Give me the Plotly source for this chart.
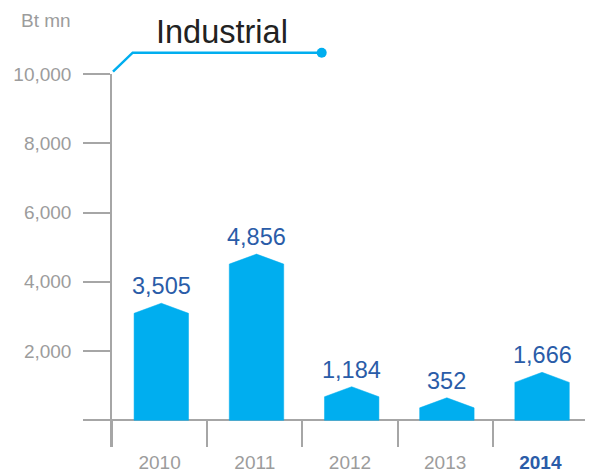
import plotly.graph_objects as go

# ---- data ----
years = ["2010", "2011", "2012", "2013", "2014"]
values = [3505, 4856, 1184, 352, 1666]          # printed labels
bar_tops = [3380, 4800, 970, 650, 1385]         # bar peak heights
y_ticks = [0, 2000, 4000, 6000, 8000, 10000]
y_tick_text = ["", "2,000", "4,000", "6,000", "8,000", "10,000"]
unit_label = "Bt mn"
title_text = "Industrial"

# ---- style ----
FONT = "Liberation Sans, Arial, Helvetica, sans-serif"
BAR = "#00aeef"
LABEL = "#2a5ca8"
GRAY = "#a6a6a6"
TXT_GRAY = "#9c9c9c"
half = 0.286      # half bar width (category units)
notch = 290       # drop from peak to shoulder (data units)
shift = 0.018     # bars sit slightly right of category centre

fig = go.Figure()
for i, top in enumerate(bar_tops):
    c = i + shift
    xs = [c - half, c - half, c, c + half, c + half, c - half]
    ys = [0, top - notch, top, top - notch, 0, 0]
    fig.add_trace(go.Scatter(
        x=xs, y=ys, mode="lines", fill="toself", fillcolor=BAR,
        line=dict(width=0.5, color=BAR), hoverinfo="skip", showlegend=False))

annotations = []
for i, (top, v) in enumerate(zip(bar_tops, values)):
    annotations.append(dict(
        x=i + shift, y=top, xref="x", yref="y", text=f"{v:,}", showarrow=False,
        xanchor="center", yanchor="bottom", yshift=2,
        font=dict(family=FONT, size=23.5, color=LABEL)))

# plot area: 481 x 373 px, its left/top edge at reference pixel 112 / 74
def px_x(p):
    return (p - 112) / 481

def px_y(p):
    return (447 - p) / 373

annotations.append(dict(
    x=px_x(154), y=px_y(32), xref="paper", yref="paper",
    text=title_text, showarrow=False, xanchor="left", yanchor="middle",
    font=dict(family=FONT, size=32.5, color="#222222")))
annotations.append(dict(
    x=px_x(19), y=px_y(21), xref="paper", yref="paper",
    text=unit_label, showarrow=False, xanchor="left", yanchor="middle",
    font=dict(family=FONT, size=19, color=TXT_GRAY)))

tick_text = [y if y != "2014" else f"<b><span style='color:{LABEL}'>{y}</span></b>" for y in years]

shapes = [
    dict(type="path", xref="paper", yref="paper",
         path=f"M {px_x(113)},{px_y(71.7)} L {px_x(132.7)},{px_y(52.7)} L {px_x(321.7)},{px_y(52.7)}",
         line=dict(color=BAR, width=2.5)),
    dict(type="circle", xref="paper", yref="paper",
         x0=px_x(316.7), x1=px_x(326.7), y0=px_y(57.7), y1=px_y(47.7),
         fillcolor=BAR, line=dict(color=BAR, width=0)),
]

# page body has an 8px margin, so the figure is 8px smaller than the window
fig.update_layout(
    width=585, height=465,
    margin=dict(l=104, r=0, t=66, b=26),
    paper_bgcolor="white", plot_bgcolor="white",
    font=dict(family=FONT),
    annotations=annotations, shapes=shapes,
    xaxis=dict(
        range=[-0.5, 4.553], tickmode="array", tickvals=list(range(len(years))),
        ticktext=tick_text, ticks="", showgrid=False, zeroline=False, showline=False,
        tickfont=dict(family=FONT, size=19, color=TXT_GRAY),
        ticklabelstandoff=2,
        minor=dict(tickmode="array", tickvals=[k - 0.5 for k in range(len(years) + 1)],
                   ticks="inside", ticklen=27, tickcolor=GRAY, tickwidth=1.5, showgrid=False),
    ),
    yaxis=dict(
        range=[-771, 10000], tickmode="array", tickvals=y_ticks, ticktext=y_tick_text,
        ticks="outside", ticklen=27, tickcolor=GRAY, tickwidth=1.5,
        showline=True, linecolor=GRAY, linewidth=1.5, showgrid=False,
        zeroline=True, zerolinecolor=GRAY, zerolinewidth=1.5,
        tickfont=dict(family=FONT, size=19, color=TXT_GRAY),
        ticklabelstandoff=8,
    ),
)

fig.write_html("out.html")
